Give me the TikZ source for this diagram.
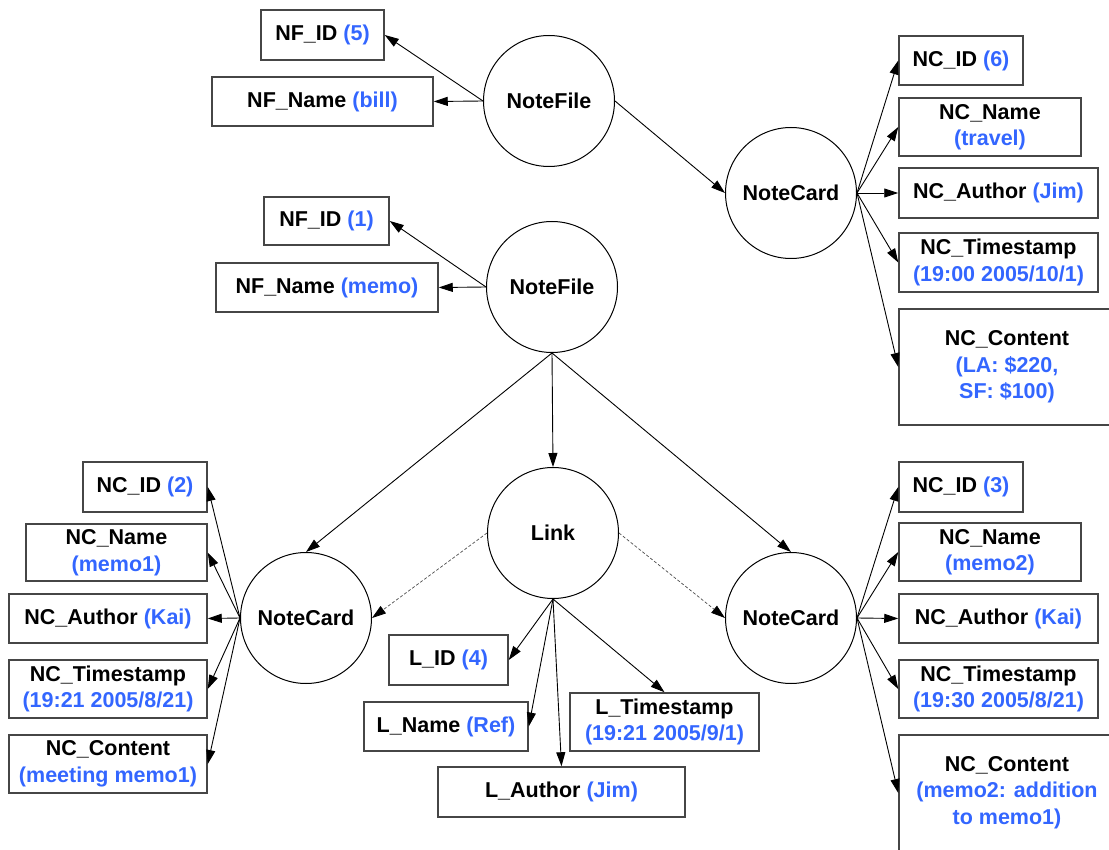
\documentclass[tikz,border=0pt]{standalone}
\usepackage{fontspec}
\setmainfont{Liberation Sans}
\usetikzlibrary{arrows.meta}
\definecolor{valblue}{RGB}{51,102,255}
\definecolor{boxgray}{RGB}{70,70,70}
\newcommand\val[1]{\textcolor{valblue}{#1}}
% attribute box given by its corners: name, x1, y1, x2, y2, text
\newcommand\abox[6]{\node[attr,minimum width={#4-#2},minimum height={#5-#3}] (#1) at ({(#2+#4)/2},{(#3+#5)/2}) {#6};}

\begin{document}
\begin{tikzpicture}[x=1pt,y=-1pt,
  every node/.style={font=\fontsize{21.5}{26.5}\selectfont\bfseries},
  entity/.style={circle,draw=black,line width=1pt,minimum size=131pt,inner sep=0pt},
  attr/.style={draw=boxgray,line width=1.5pt,align=center,inner sep=0pt},
  rel/.style={-{Triangle[length=14pt,width=9pt]},line width=0.9pt},
  reflink/.style={-{Triangle[length=14pt,width=9pt,color=black]},line width=0.7pt,draw=black!70,dash pattern=on 3pt off 2pt}
]
\useasboundingbox (0,0) rectangle (1109,850);

% entities
\node[entity] (nf5) at (549,101) {NoteFile};
\node[entity] (nc6) at (791,193) {NoteCard};
\node[entity] (nf1) at (552,287) {NoteFile};
\node[entity] (link) at (553,533) {Link};
\node[entity] (nc2) at (306,618) {NoteCard};
\node[entity] (nc3) at (791,618) {NoteCard};

% NoteFile 5
\abox{nfid5}{261}{10}{384}{60}{NF\_ID \val{(5)}}
\abox{nfname5}{212}{77}{433}{126}{NF\_Name \val{(bill)}}
% NoteFile 1
\abox{nfid1}{264}{197}{389}{245}{NF\_ID \val{(1)}}
\abox{nfname1}{216}{263}{438}{312}{NF\_Name \val{(memo)}}

% NoteCard 6
\abox{ncid6}{899}{36}{1023}{85}{NC\_ID \val{(6)}}
\abox{ncname6}{899}{98}{1081}{156}{NC\_Name\\\val{(travel)}}
\abox{ncauth6}{899}{168}{1098}{218}{NC\_Author \val{(Jim)}}
\abox{ncts6}{899}{233}{1098}{292}{NC\_Timestamp\\\val{(19:00 2005/10/1)}}
\abox{nccont6}{899}{309}{1115}{425}{NC\_Content\\\val{(LA: \$220,}\\\val{SF: \$100)}}

% NoteCard 2
\abox{ncid2}{83}{462}{207}{512}{NC\_ID \val{(2)}}
\abox{ncname2}{26}{524}{207}{581}{NC\_Name\\\val{(memo1)}}
\abox{ncauth2}{9}{594}{207}{643}{NC\_Author \val{(Kai)}}
\abox{ncts2}{9}{660}{207}{718}{NC\_Timestamp\\\val{(19:21 2005/8/21)}}
\abox{nccont2}{9}{735}{207}{793}{NC\_Content\\\val{(meeting memo1)}}

% NoteCard 3 (its content box runs past the lower edge)
\abox{ncid3}{899}{462}{1023}{512}{NC\_ID \val{(3)}}
\abox{ncname3}{899}{523}{1081}{581}{NC\_Name\\\val{(memo2)}}
\abox{ncauth3}{899}{594}{1098}{643}{NC\_Author \val{(Kai)}}
\abox{ncts3}{899}{660}{1098}{718}{NC\_Timestamp\\\val{(19:30 2005/8/21)}}
\abox{nccont3}{899}{735}{1115}{862}{NC\_Content\\\val{(memo2: addition}\\\val{to memo1)}\\[-10pt]\mbox{}}

% Link 4
\abox{lid}{389}{635}{508}{685}{L\_ID \val{(4)}}
\abox{lname}{364}{702}{528}{751}{L\_Name \val{(Ref)}}
\abox{lts}{570}{693}{759}{751}{L\_Timestamp\\\val{(19:21 2005/9/1)}}
\abox{lauth}{438}{767}{685}{817}{L\_Author \val{(Jim)}}

% connectors
\draw[rel] (nf5.west) -- (nfid5.east);
\draw[rel] (nf5.west) -- (nfname5.east);
\draw[rel] (nf5.east) -- (nc6.west);
\foreach \t in {ncid6,ncname6,ncauth6,ncts6,nccont6}
  \draw[rel] (nc6.east) -- (\t.west);

\draw[rel] (nf1.west) -- (nfid1.east);
\draw[rel] (nf1.west) -- (nfname1.east);
\draw[rel] (nf1.south) -- (link.north);
\draw[rel] (nf1.south) -- (nc2.north);
\draw[rel] (nf1.south) -- (nc3.north);

\foreach \t in {ncid2,ncname2,ncauth2,ncts2,nccont2}
  \draw[rel] (nc2.west) -- (\t.east);
\foreach \t in {ncid3,ncname3,ncauth3,ncts3}
  \draw[rel] (nc3.east) -- (\t.west);
\draw[rel] (nc3.east) -- (nccont3.west |- 0,793);

\draw[reflink] (link.west) -- (nc2.east);
\draw[reflink] (link.east) -- (nc3.west);
\draw[rel] (link.south) -- (lid.east);
\draw[rel] (link.south) -- (lname.east);
\draw[rel] (link.south) -- (lauth.north);
\draw[rel] (link.south) -- (lts.north);
\end{tikzpicture}
\end{document}
